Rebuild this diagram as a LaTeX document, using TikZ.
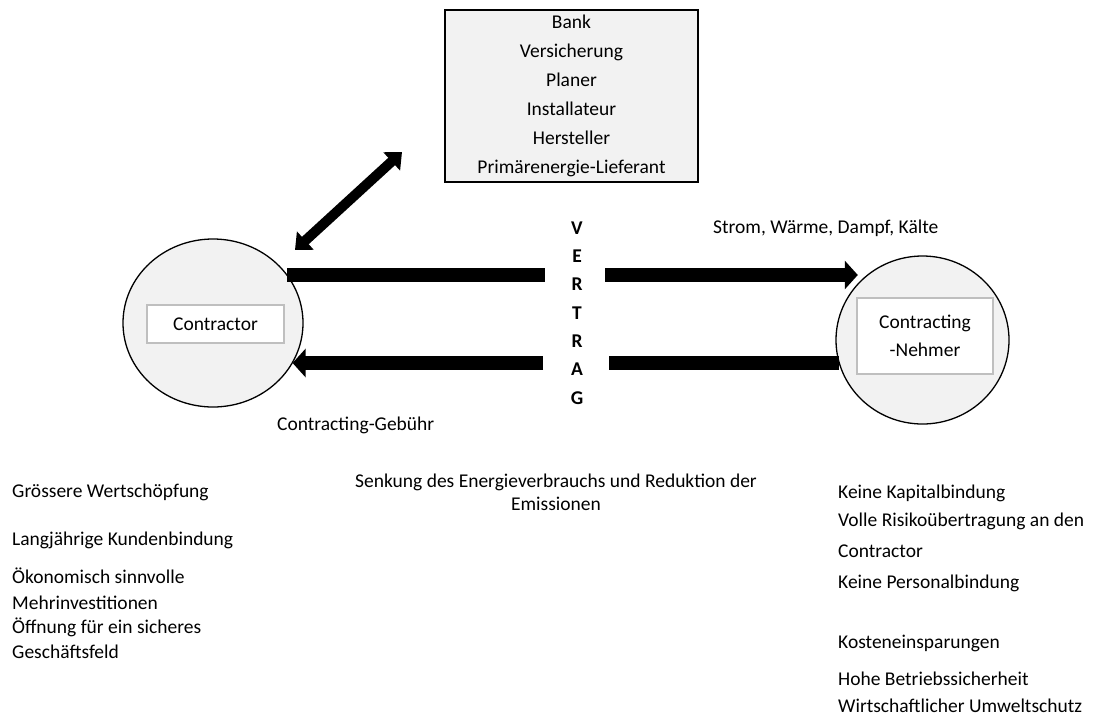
\documentclass[tikz,border=0pt]{standalone}
\usepackage{fontspec}
\setmainfont{Carlito}
\usepackage{tikz}
\usetikzlibrary{arrows.meta,positioning,shapes.geometric}
\definecolor{cfill}{RGB}{242,242,242}
\definecolor{cbox}{RGB}{191,191,191}

\begin{document}
\begin{tikzpicture}[x=1pt,y=-1pt,
  every node/.style={font=\fontsize{19.5}{23}\selectfont},
  party/.style={draw,ellipse,fill=cfill,line width=1.3pt,inner sep=0pt},
  lbl/.style={draw=cbox,fill=white,line width=1.3pt,align=center,inner sep=2pt},
  txt/.style={anchor=base west,inner sep=0pt},
  flow/.style={line width=14pt},
  flowarr/.style={line width=14pt,-{Triangle[length=13pt,width=28pt]}},
  link/.style={line width=10pt,{Triangle[length=14pt,width=24pt]}-{Triangle[length=14pt,width=24pt]}}
]
\useasboundingbox (0,0) rectangle (1099,720);
% beteiligte
\node[draw,fill=cfill,line width=1.6pt,minimum width=253pt,minimum height=172pt,
  align=center,inner sep=0pt,font=\fontsize{19.5}{29}\selectfont] (partners) at (571.5,96)
  {Bank\\Versicherung\\Planer\\Installateur\\Hersteller\\Primärenergie-Lieferant};
\node[party,minimum width=180pt,minimum height=168pt] (contractor) at (213,323) {};
\node[lbl,minimum width=137pt,minimum height=38pt] (contractorlbl) at (215.5,324) {Contractor};
\node[party,minimum width=173pt,minimum height=168pt] (nehmer) at (922.5,340) {};
\node[lbl,minimum width=136pt,minimum height=76pt,font=\fontsize{19.5}{28}\selectfont]
  (nehmerlbl) at (925,336) {Contracting\\-Nehmer};
\node[align=center,inner sep=0pt,font=\bfseries\fontsize{19.5}{28.3}\selectfont] (vertrag)
  at (577,313) {V\\E\\R\\T\\R\\A\\G};
% pfeile
\coordinate (gapL1) at (545,275);
\coordinate (gapR1) at (605,275);
\coordinate (gapL2) at (543,363);
\coordinate (gapR2) at (609,363);
\coordinate (linkA) at (402,152);
\coordinate (linkB) at (295,250);
\draw[flow] (contractor.33 |- gapL1) -- (gapL1);
\draw[flowarr,shorten >=4pt] (gapR1) -- (nehmer.135 |- gapR1);
\draw[flow] (gapR2) -- (nehmer.195 |- gapR2);
\draw[flowarr] (gapL2) -- (contractor.333 |- gapL2);
\draw[link] (linkB) -- (linkA);
% beschriftungen
\node[txt] (strom) at (713,233) {Strom, Wärme, Dampf, Kälte};
\node[txt] (gebuehr) at (277,430) {Contracting-Gebühr};
\node[anchor=base,inner sep=0pt] (senkung) at (556,487) {Senkung des Energieverbrauchs und Reduktion der};
\node[anchor=base,inner sep=0pt] (emissionen) at (556,510) {Emissionen};
% vorteile contractor
\node[txt] (c1) at (12,497) {Grössere Wertschöpfung};
\node[txt] (c2) at (12,545) {Langjährige Kundenbindung};
\node[txt] (c3) at (12,583) {Ökonomisch sinnvolle};
\node[txt] (c4) at (12,609) {Mehrinvestitionen};
\node[txt] (c5) at (12,633) {Öffnung für ein sicheres};
\node[txt] (c6) at (12,658) {Geschäftsfeld};
% vorteile nehmer
\node[txt] (n1) at (838,498) {Keine Kapitalbindung};
\node[txt] (n2) at (838,526) {Volle Risikoübertragung an den};
\node[txt] (n3) at (838,557) {Contractor};
\node[txt] (n4) at (838,588) {Keine Personalbindung};
\node[txt] (n5) at (838,648) {Kosteneinsparungen};
\node[txt] (n6) at (838,685) {Hohe Betriebssicherheit};
\node[txt] (n7) at (838,712) {Wirtschaftlicher Umweltschutz};
\end{tikzpicture}
\end{document}
